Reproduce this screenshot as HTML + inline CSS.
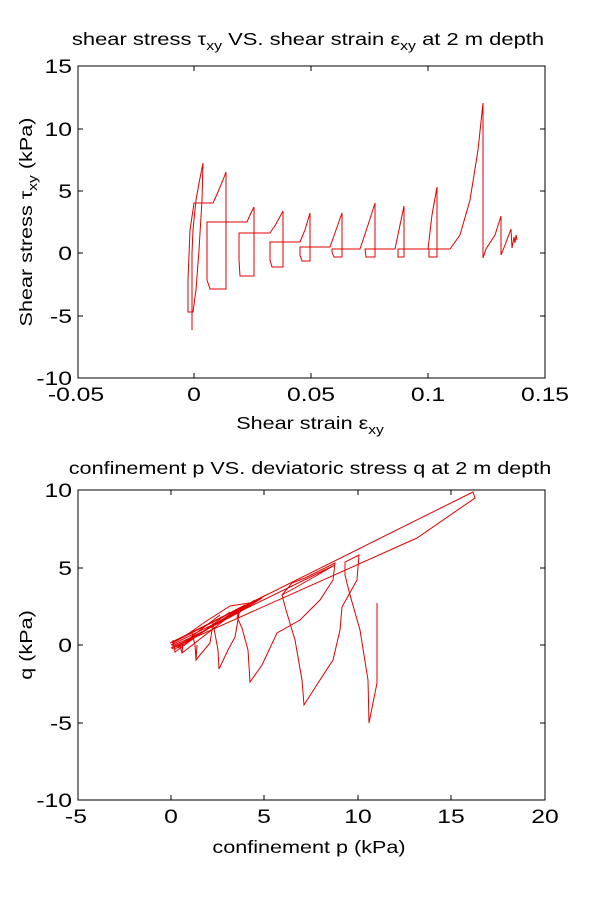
<!DOCTYPE html>
<html><head><meta charset="utf-8"><style>
html,body{margin:0;padding:0;background:#fff;}
svg{display:block;font-family:"Liberation Sans",Arial,sans-serif;}
</style></head><body>
<svg width="600" height="900" viewBox="0 0 600 900" xmlns="http://www.w3.org/2000/svg">
<rect width="600" height="900" fill="#fff"/>
<!-- Top plot -->
<rect x="78" y="66" width="467" height="312" fill="none" stroke="#000" stroke-width="1"/>
<g stroke="#000" stroke-width="1">
<line x1="194" y1="378" x2="194" y2="373"/><line x1="311" y1="378" x2="311" y2="373"/><line x1="428" y1="378" x2="428" y2="373"/>
<line x1="194" y1="66" x2="194" y2="71"/><line x1="311" y1="66" x2="311" y2="71"/><line x1="428" y1="66" x2="428" y2="71"/>
<line x1="78" y1="129" x2="83" y2="129"/><line x1="78" y1="191" x2="83" y2="191"/><line x1="78" y1="253" x2="83" y2="253"/><line x1="78" y1="316" x2="83" y2="316"/>
<line x1="545" y1="129" x2="540" y2="129"/><line x1="545" y1="191" x2="540" y2="191"/><line x1="545" y1="253" x2="540" y2="253"/><line x1="545" y1="316" x2="540" y2="316"/>
</g>
<g font-size="19" fill="#000" text-anchor="middle">
<text transform="translate(76,401) scale(1.3,1)">-0.05</text>
<text transform="translate(194,401) scale(1.3,1)">0</text>
<text transform="translate(311,401) scale(1.3,1)">0.05</text>
<text transform="translate(428,401) scale(1.3,1)">0.1</text>
<text transform="translate(545,401) scale(1.3,1)">0.15</text>
</g>
<g font-size="19" fill="#000" text-anchor="end">
<text transform="translate(72,73) scale(1.3,1)">15</text>
<text transform="translate(72,136) scale(1.3,1)">10</text>
<text transform="translate(72,198) scale(1.3,1)">5</text>
<text transform="translate(72,260) scale(1.3,1)">0</text>
<text transform="translate(72,323) scale(1.3,1)">-5</text>
<text transform="translate(72,385) scale(1.3,1)">-10</text>
</g>
<text transform="translate(308,45) scale(1.22,1)" font-size="18" text-anchor="middle">shear stress τ<tspan font-size="13" dy="5">xy</tspan><tspan dy="-5"> VS. shear strain ε</tspan><tspan font-size="13" dy="5">xy</tspan><tspan dy="-5"> at 2 m depth</tspan></text>
<text transform="translate(310,429) scale(1.2,1)" font-size="18" text-anchor="middle">Shear strain ε<tspan font-size="13" dy="5">xy</tspan></text>
<text transform="translate(32,222) rotate(-90) scale(1.2,1)" font-size="18" text-anchor="middle">Shear stress τ<tspan font-size="13" dy="5">xy</tspan><tspan dy="-5"> (kPa)</tspan></text>
<g fill="none" stroke="#e00000" stroke-width="1">
<path d="M192,253 L192,330"/>
<path d="M192,253 L193,230 L196,200 L200,178 L203,163 L202,200 L199,250 L196,290 L193,312 L188,312 L188,280 L190,230 L193,210 L194,203 L213,203 L218,192 L223,180 L226,172 L226,289 L222,289 L210,289 L207,280 L207,222 L247,222 L250,215 L254,207 L254,276 L248,276 L240,276 L239,260 L239,233 L270,233 L276,224 L283,211 L283,267 L272,267 L270,260 L270,242 L300,242 L305,230 L310,213 L310,261 L302,261 L300,255 L300,247 L330,247 L336,230 L342,213 L342,257 L334,257 L332,252 L332,249 L360,249 L368,225 L375,203 L375,257 L366,257 L365,249 L395,249 L400,225 L404,206 L404,257 L398,257 L398,249 L428,249 L432,215 L437,187 L437,257 L429,257 L429,249 L450,249 L460,235 L470,200 L478,150 L483,103 L483,258 L486,249 L495,235 L501,216 L501,255 L505,245 L511,229 L512,248 L514,237 L515,243 L516,235 L517,240"/>
</g>
<!-- Bottom plot -->
<rect x="78" y="490" width="467" height="310" fill="none" stroke="#000" stroke-width="1"/>
<g stroke="#000" stroke-width="1">
<line x1="171" y1="800" x2="171" y2="795"/><line x1="264" y1="800" x2="264" y2="795"/><line x1="358" y1="800" x2="358" y2="795"/><line x1="451" y1="800" x2="451" y2="795"/>
<line x1="171" y1="490" x2="171" y2="495"/><line x1="264" y1="490" x2="264" y2="495"/><line x1="358" y1="490" x2="358" y2="495"/><line x1="451" y1="490" x2="451" y2="495"/>
<line x1="78" y1="568" x2="83" y2="568"/><line x1="78" y1="645" x2="83" y2="645"/><line x1="78" y1="723" x2="83" y2="723"/>
<line x1="545" y1="568" x2="540" y2="568"/><line x1="545" y1="645" x2="540" y2="645"/><line x1="545" y1="723" x2="540" y2="723"/>
</g>
<g font-size="19" fill="#000" text-anchor="middle">
<text transform="translate(76,823) scale(1.3,1)">-5</text>
<text transform="translate(171,823) scale(1.3,1)">0</text>
<text transform="translate(264,823) scale(1.3,1)">5</text>
<text transform="translate(358,823) scale(1.3,1)">10</text>
<text transform="translate(451,823) scale(1.3,1)">15</text>
<text transform="translate(545,823) scale(1.3,1)">20</text>
</g>
<g font-size="19" fill="#000" text-anchor="end">
<text transform="translate(72,497) scale(1.3,1)">10</text>
<text transform="translate(72,575) scale(1.3,1)">5</text>
<text transform="translate(72,652) scale(1.3,1)">0</text>
<text transform="translate(72,730) scale(1.3,1)">-5</text>
<text transform="translate(72,807) scale(1.3,1)">-10</text>
</g>
<text transform="translate(310,474) scale(1.2,1)" font-size="18" text-anchor="middle">confinement p VS. deviatoric stress q at 2 m depth</text>
<text transform="translate(309,853) scale(1.2,1)" font-size="18" text-anchor="middle">confinement p (kPa)</text>
<text transform="translate(32,645) rotate(-90) scale(1.2,1)" font-size="18" text-anchor="middle">q (kPa)</text>
<g fill="none" stroke="#e00000" stroke-width="1">
<path d="M170,643 L473,492 L475,498 L417,538 L171,648"/>
<path d="M377,603 L377,683 L369,723 L368,680 L360,630 L350,595 L345,575 L345,562 L359,555 L357,580 L342,607 L340,630 L333,660 L318,683 L304,705 L302,680 L295,640 L286,610 L282,595 L292,583 L305,578 L335,563 L333,580 L320,600 L300,620 L277,633 L262,665 L250,682 L248,650 L242,628 L237,617 L240,608 L235,637 L228,650 L219,669 L218,650 L213,623 L210,643 L200,655 L196,660 L195,645 L192,633"/>
<path d="M282,595 L300,585 L335,565 L171,645"/>
<path d="M266,595 L172,643 M266,595 L180,645 M266,595 L240,608 L178,648 M245,605 L176,641 M250,605 L172,649"/>
<path d="M240,608 L182,653 L180,645 M230,612 L175,652 L173,640 M220,615 L174,650 M255,600 L190,640 L175,646"/>
<path d="M262,598 L240,612 L215,625 L190,638 L172,646 M256,602 L230,606 L205,622 L185,636"/>
<path d="M182,653 L183,643 M196,660 L197,645"/>
</g>
</svg>
</body></html>
